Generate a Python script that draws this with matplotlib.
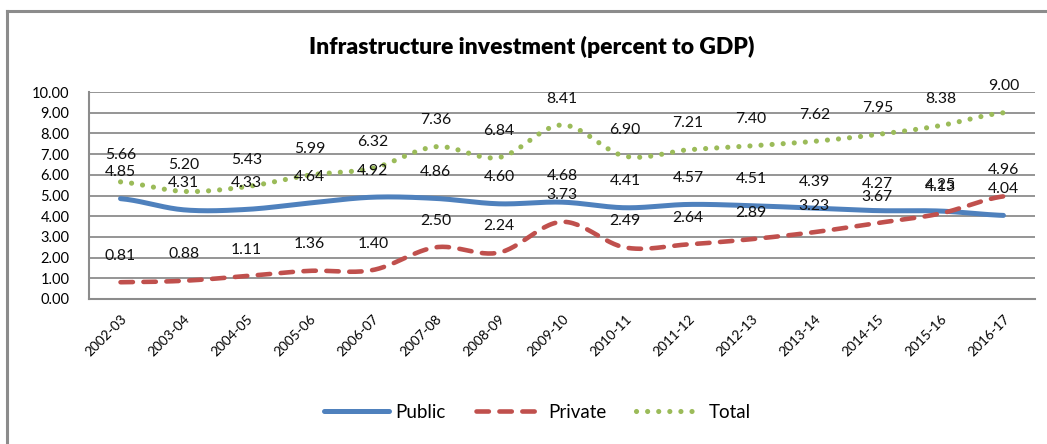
import numpy as np
import matplotlib.pyplot as plt
from matplotlib.lines import Line2D

years = ['2002-03', '2003-04', '2004-05', '2005-06', '2006-07', '2007-08', '2008-09',
         '2009-10', '2010-11', '2011-12', '2012-13', '2013-14', '2014-15', '2015-16', '2016-17']
public = [4.85, 4.31, 4.33, 4.64, 4.92, 4.86, 4.60, 4.68, 4.41, 4.57, 4.51, 4.39, 4.27, 4.25, 4.04]
private = [0.81, 0.88, 1.11, 1.36, 1.40, 2.50, 2.24, 3.73, 2.49, 2.64, 2.89, 3.23, 3.67, 4.13, 4.96]
total = [5.66, 5.20, 5.43, 5.99, 6.32, 7.36, 6.84, 8.41, 6.90, 7.21, 7.40, 7.62, 7.95, 8.38, 9.00]

plt.rcParams['font.family'] = ['Lato', 'DejaVu Sans']


def smooth(x, y, n=30):
    # Catmull-Rom style curve through the points, like Excel's smoothed line
    x = np.asarray(x, float)
    y = np.asarray(y, float)
    px = np.concatenate([[2 * x[0] - x[1]], x, [2 * x[-1] - x[-2]]])
    py = np.concatenate([[y[0]], y, [y[-1]]])
    xs, ys = [], []
    t = np.linspace(0, 1, n)
    for i in range(1, len(px) - 2):
        for p, out in ((px, xs), (py, ys)):
            p0, p1, p2, p3 = p[i - 1], p[i], p[i + 1], p[i + 2]
            b1 = p1 + (p2 - p0) / 6
            b2 = p2 - (p3 - p1) / 6
            out.append((1 - t) ** 3 * p1 + 3 * (1 - t) ** 2 * t * b1 + 3 * (1 - t) * t ** 2 * b2 + t ** 3 * p2)
    return np.concatenate(xs), np.concatenate(ys)


fig = plt.figure(figsize=(10.47, 4.44), dpi=100)
ax = fig.add_axes([0.085, 0.3266, 0.9035, 0.466])

x = np.arange(len(years))
c_pub, c_pri, c_tot = '#4F81BD', '#C0504D', '#9BBB59'

sx, sy = smooth(x, public)
ax.plot(sx, sy, color=c_pub, lw=3.6, solid_capstyle='round', label='Public', zorder=3)
sx, sy = smooth(x, private)
ax.plot(sx, sy, color=c_pri, lw=3.3, dashes=(2.7, 2.3), dash_capstyle='round', label='Private', zorder=3)
sx, sy = smooth(x, total)
ax.plot(sx, sy, color=c_tot, lw=3.7, dashes=(0.01, 2.15), dash_capstyle='round', label='Total', zorder=3)

for series in (public, private, total):
    for i, v in enumerate(series):
        ax.annotate(f'{v:.2f}', (i, v), xytext=(0, 19), textcoords='offset points',
                    ha='center', va='center', fontsize=11.3, color='#111111', zorder=4)

ax.set_xlim(-0.5, len(years) - 0.5)
ax.set_ylim(0, 10)
ax.set_yticks(np.arange(0, 11, 1))
ax.set_yticklabels([f'{v:.2f}' for v in np.arange(0, 11, 1)], fontsize=10.5)
ax.set_xticks(x)
ax.set_xticklabels(years, rotation=45, ha='right', va='top', rotation_mode='anchor', fontsize=9.8)
ax.tick_params(axis='y', length=0, pad=14)
ax.tick_params(axis='x', length=0, pad=10)
ax.grid(axis='y', color='#8c8c8c', lw=1.3)
ax.set_axisbelow(True)
for s in ('top', 'right'):
    ax.spines[s].set_visible(False)
for s in ('left', 'bottom'):
    ax.spines[s].set_color('#8c8c8c')
    ax.spines[s].set_linewidth(1.5)

fig.text(0.508, 0.894, 'Infrastructure investment (percent to GDP)', ha='center', va='center',
         fontsize=16.5, fontweight='heavy')

fig.legend(loc='center', bbox_to_anchor=(0.513, 0.072), ncol=3, frameon=False,
           fontsize=13.5, handlelength=3.5, columnspacing=1.6, handletextpad=0.35)

fig.add_artist(Line2D([0.0067, 0.0067], [0, 0.975], color='#8c8c8c', lw=2.2))
fig.add_artist(Line2D([0.0067, 1.0], [0.975, 0.975], color='#8c8c8c', lw=2.2))

fig.savefig('out.png', dpi=100)
